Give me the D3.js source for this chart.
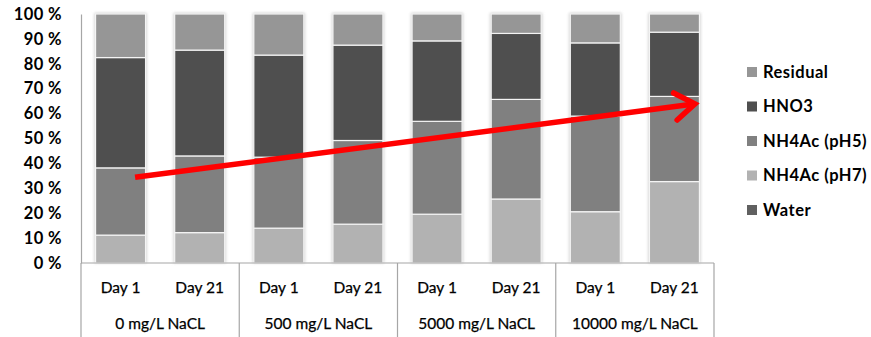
<!DOCTYPE html>
<html>
<head>
<meta charset="utf-8">
<script src="https://cdn.jsdelivr.net/npm/d3@7"></script>
<style>
  html, body { margin: 0; padding: 0; background: #fff; }
  svg { display: block; font-family: Lato, "Open Sans", sans-serif; }
</style>
</head>
<body>
<svg id="chart" width="871" height="337"></svg>
<script>
// Sample conditions (outer axis level) and sampling days (inner axis level)
const groups = ["0 mg/L NaCL", "500 mg/L NaCL", "5000 mg/L NaCL", "10000 mg/L NaCL"];
const days = ["Day 1", "Day 21"];

// Extraction fractions, % of total, one value per bar (group x day)
const water    = [0, 0, 0, 0, 0, 0, 0, 0];
const nh4acPH7 = [11.2, 12.2, 14.0, 15.6, 19.6, 25.7, 20.6, 32.7];
const nh4acPH5 = [27.0, 30.8, 28.5, 33.6, 37.3, 40.0, 38.4, 34.2];
const hno3     = [44.3, 42.5, 41.0, 38.3, 32.3, 26.5, 29.4, 25.8];
const residual = [17.5, 14.5, 16.5, 12.5, 10.8, 7.8, 11.6, 7.3];

const seriesNames = ["Water", "NH4Ac (pH7)", "NH4Ac (pH5)", "HNO3", "Residual"];
const seriesValues = [water, nh4acPH7, nh4acPH5, hno3, residual];
const seriesColors = ["#606060", "#b2b2b2", "#808080", "#4f4f4f", "#969696"];

const yTicks = [0, 10, 20, 30, 40, 50, 60, 70, 80, 90, 100];

// Trend arrow: from bar 1 to bar 8 (bar index, position within bar, percent)
const arrowFrom = { bar: 0, frac: 0.79, pct: 34.4 };
const arrowTo   = { bar: 7, frac: 0.91, pct: 63.9 };

const svg = d3.select("#chart");
const plotLeft = 81, plotRight = 714, plotTop = 14, plotBottom = 263;

const bars = [];
groups.forEach((g, gi) => days.forEach((d, di) => bars.push({ group: g, day: d, i: gi * days.length + di })));

const x = d3.scaleBand().domain(bars.map(b => b.i)).range([plotLeft, plotRight])
  .paddingInner(0.368).paddingOuter(0.184);
const xGroup = d3.scaleBand().domain(groups).range([plotLeft, plotRight]);
const y = d3.scaleLinear().domain([0, 100]).range([plotBottom, plotTop]);

// soft halo around bars
const defs = svg.append("defs");
const f = defs.append("filter").attr("id", "halo").attr("x", "-20%").attr("y", "-5%").attr("width", "140%").attr("height", "110%");
f.append("feGaussianBlur").attr("stdDeviation", 1.6);

// stacked data
const table = bars.map(b => {
  const row = { i: b.i };
  seriesNames.forEach((s, si) => row[s] = seriesValues[si][b.i]);
  return row;
});
const stacked = d3.stack().keys(seriesNames)(table);
const totalOf = d => d3.sum(seriesNames, s => d[s]);

// halo behind each bar
svg.append("g").selectAll("rect").data(table).join("rect")
  .attr("x", d => x(d.i) - 1)
  .attr("y", d => y(totalOf(d)) - 1)
  .attr("width", x.bandwidth() + 2)
  .attr("height", d => y(0) - y(totalOf(d)) + 1)
  .attr("fill", "#cdcdcd")
  .attr("filter", "url(#halo)");

svg.append("g").selectAll("g").data(stacked).join("g")
  .attr("fill", (d, i) => seriesColors[i])
  .selectAll("rect").data(d => d).join("rect")
  .attr("x", d => x(d.data.i))
  .attr("y", d => y(d[1]))
  .attr("width", x.bandwidth())
  .attr("height", d => Math.max(0, y(d[0]) - y(d[1])))
  .attr("stroke", "#f4f4f4")
  .attr("stroke-width", 1.2);

// y axis
const yAxis = d3.axisLeft(y).tickValues(yTicks).tickFormat(d => d + " %").tickSize(0).tickPadding(19);
const ya = svg.append("g").attr("transform", `translate(${plotLeft},0)`).call(yAxis);
ya.select(".domain").attr("stroke", "#a6a6a6").attr("stroke-width", 1.2);
ya.selectAll("text").attr("font-size", 16.5).attr("font-weight", "bold").attr("fill", "#000")
  .attr("letter-spacing", 0.4)
  .attr("font-family", "Lato, 'Open Sans', sans-serif");

// x axis: baseline, day labels, group separators and labels
svg.append("line").attr("x1", plotLeft).attr("x2", plotRight).attr("y1", plotBottom).attr("y2", plotBottom)
  .attr("stroke", "#a6a6a6").attr("stroke-width", 1.2);
const seps = groups.map(g => xGroup(g)).concat([plotRight]);
svg.append("g").selectAll("line").data(seps).join("line")
  .attr("x1", d => d).attr("x2", d => d).attr("y1", plotBottom).attr("y2", 337)
  .attr("stroke", "#a6a6a6").attr("stroke-width", 1.2);

svg.append("g").selectAll("text").data(bars).join("text")
  .attr("x", d => x(d.i) + x.bandwidth() / 2)
  .attr("y", 288)
  .attr("dy", "0.35em")
  .attr("text-anchor", "middle")
  .attr("font-size", 15.5)
  .attr("fill", "#000")
  .attr("stroke", "#000").attr("stroke-width", 0.25)
  .text(d => d.day);

svg.append("g").selectAll("text").data(groups).join("text")
  .attr("x", d => xGroup(d) + xGroup.bandwidth() / 2)
  .attr("y", 324)
  .attr("dy", "0.35em")
  .attr("text-anchor", "middle")
  .attr("font-size", 15.5)
  .attr("fill", "#000")
  .attr("stroke", "#000").attr("stroke-width", 0.25)
  .text(d => d);

// legend (top to bottom: Residual ... Water)
const legendItems = seriesNames.map((s, i) => ({ name: s, color: seriesColors[i] })).reverse();
const lg = svg.append("g").selectAll("g").data(legendItems).join("g")
  .attr("transform", (d, i) => `translate(747,${72 + i * 34.5})`);
lg.append("rect").attr("x", 0).attr("y", -5).attr("width", 10).attr("height", 10).attr("fill", d => d.color);
lg.append("text").attr("x", 16).attr("dy", "0.35em").attr("font-size", 16.5).attr("font-weight", "bold")
  .attr("letter-spacing", 0.5)
  .attr("fill", "#000").text(d => d.name);

// red trend arrow
const ax1 = x(arrowFrom.bar) + arrowFrom.frac * x.bandwidth(), ay1 = y(arrowFrom.pct);
const ax2 = x(arrowTo.bar) + arrowTo.frac * x.bandwidth(), ay2 = y(arrowTo.pct);
const ang = Math.atan2(ay2 - ay1, ax2 - ax1);
const headLen = 24, headAng = Math.PI / 5.2;
const arrow = svg.append("g").attr("stroke", "#ff0000").attr("fill", "none")
  .attr("stroke-width", 5.5).attr("stroke-linecap", "butt").attr("stroke-linejoin", "miter");
arrow.append("line").attr("x1", ax1).attr("y1", ay1).attr("x2", ax2 - 3 * Math.cos(ang)).attr("y2", ay2 - 3 * Math.sin(ang));
arrow.append("path")
  .attr("stroke-linecap", "round")
  .attr("d", d3.line()([
    [ax2 - headLen * Math.cos(ang - headAng), ay2 - headLen * Math.sin(ang - headAng)],
    [ax2, ay2],
    [ax2 - headLen * Math.cos(ang + headAng), ay2 - headLen * Math.sin(ang + headAng)]
  ]));
</script>
</body>
</html>
